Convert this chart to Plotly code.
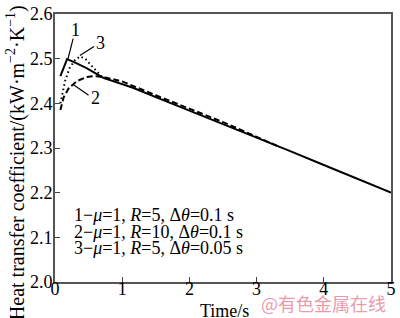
import plotly.graph_objects as go

# Curve 1: mu=1, R=5, dtheta=0.1 s (solid)
t1 = [0.08, 0.18, 0.3, 0.47, 0.72, 0.95, 1.16, 1.5, 2.0, 2.5, 3.0, 3.3, 3.5, 4.0, 4.5, 5.0]
h1 = [2.461, 2.499, 2.491, 2.479, 2.457, 2.446, 2.435, 2.414, 2.384, 2.354, 2.323, 2.305, 2.293, 2.262, 2.231, 2.200]
# Curve 2: mu=1, R=10, dtheta=0.1 s (dashed)
t2 = [0.08, 0.13, 0.21, 0.33, 0.47, 0.60, 0.75, 1.0, 1.5, 2.0, 2.5, 3.0, 3.3]
h2 = [2.385, 2.414, 2.435, 2.450, 2.459, 2.461, 2.458, 2.449, 2.418, 2.388, 2.358, 2.325, 2.305]
# Curve 3: mu=1, R=5, dtheta=0.05 s (dotted)
t3 = [0.08, 0.15, 0.22, 0.30, 0.37, 0.45, 0.52, 0.60, 0.70, 0.80]
h3 = [2.400, 2.450, 2.480, 2.497, 2.505, 2.500, 2.488, 2.475, 2.459, 2.453]

xticks = [0, 1, 2, 3, 4, 5]
yticks = [2.0, 2.1, 2.2, 2.3, 2.4, 2.5, 2.6]
ytick_text = ["2.0", "2.1", "2.2", "2.3", "2.4", "2.5", "2.6"]

# curve label texts, label positions, and leader line ends (on curve -> near label)
label_text = ["1", "2", "3"]
label_x = [0.30, 0.60, 0.67]
label_y = [2.565, 2.412, 2.535]
leader_x0 = [0.19, 0.27, 0.37]
leader_y0 = [2.498, 2.442, 2.507]
leader_x1 = [0.27, 0.50, 0.58]
leader_y1 = [2.545, 2.418, 2.527]

legend_lines = [
    "1\u2212<i>\u03bc</i>=1, <i>R</i>=5, \u0394<i>\u03b8</i>=0.1 s",
    "2\u2212<i>\u03bc</i>=1, <i>R</i>=10, \u0394<i>\u03b8</i>=0.1 s",
    "3\u2212<i>\u03bc</i>=1, <i>R</i>=5, \u0394<i>\u03b8</i>=0.05 s",
]
legend_y = [2.150, 2.113, 2.076]

FONT = "Liberation Serif"
FS = 18

fig = go.Figure()
fig.add_trace(go.Scatter(x=t1, y=h1, mode="lines", line=dict(color="black", width=2, dash="solid")))
fig.add_trace(go.Scatter(x=t2, y=h2, mode="lines", line=dict(color="black", width=2, dash="6px,3px")))
fig.add_trace(go.Scatter(x=t3, y=h3, mode="lines", line=dict(color="black", width=2, dash="1.5px,3px")))

for i in range(len(label_text)):
    fig.add_trace(go.Scatter(x=[leader_x0[i], leader_x1[i]], y=[leader_y0[i], leader_y1[i]],
                             mode="lines", line=dict(color="black", width=1.2), hoverinfo="skip"))
    fig.add_annotation(x=label_x[i], y=label_y[i], text=label_text[i], showarrow=False,
                       font=dict(family=FONT, size=FS, color="black"))

for s, yy in zip(legend_lines, legend_y):
    fig.add_annotation(x=0.26, y=yy, xref="x", yref="y", text=s, showarrow=False,
                       xanchor="left", yanchor="middle",
                       font=dict(family=FONT, size=FS, color="black"))

fig.add_annotation(xref="paper", yref="paper", x=-0.117, y=0.446, xanchor="center", yanchor="middle",
                   textangle=-90,
                   text="Heat transfer coefficient/(kW\u00b7m<sup>\u22122</sup>\u00b7K<sup>\u22121</sup>)",
                   showarrow=False, font=dict(family=FONT, size=20, color="black"))

fig.add_annotation(xref="paper", yref="paper", x=0.505, y=-0.11, yanchor="middle",
                   text="Time/s", showarrow=False, font=dict(family=FONT, size=FS, color="black"))

fig.add_annotation(xref="paper", yref="paper", x=0.606, y=-0.078, xanchor="left", yanchor="middle",
                   text="@有色金属在线", showarrow=False,
                   font=dict(family="Noto Sans CJK SC", size=18, color="rgba(228,120,140,0.75)"))

fig.update_xaxes(range=[0, 5], tickvals=xticks, ticks="inside", ticklen=5, tickwidth=1,
                 tickcolor="#444", showline=True, linecolor="#555", linewidth=2, mirror=True,
                 showgrid=False, zeroline=False, ticklabelstandoff=-11, ticklabeloverflow="allow",
                 tickfont=dict(family=FONT, size=FS, color="black"))
fig.update_yaxes(range=[2.0, 2.6], tickvals=yticks, ticktext=ytick_text, ticks="inside", ticklen=5,
                 tickwidth=1, tickcolor="#444", showline=True, linecolor="#555", linewidth=2,
                 mirror=True, showgrid=False, zeroline=False, ticklabelstandoff=-3,
                 ticklabeloverflow="allow",
                 tickfont=dict(family=FONT, size=FS, color="black"))

fig.update_layout(width=400, height=318, margin=dict(l=55, r=4, t=6, b=36),
                  paper_bgcolor="white", plot_bgcolor="white", showlegend=False)

fig.write_html("out.html")
